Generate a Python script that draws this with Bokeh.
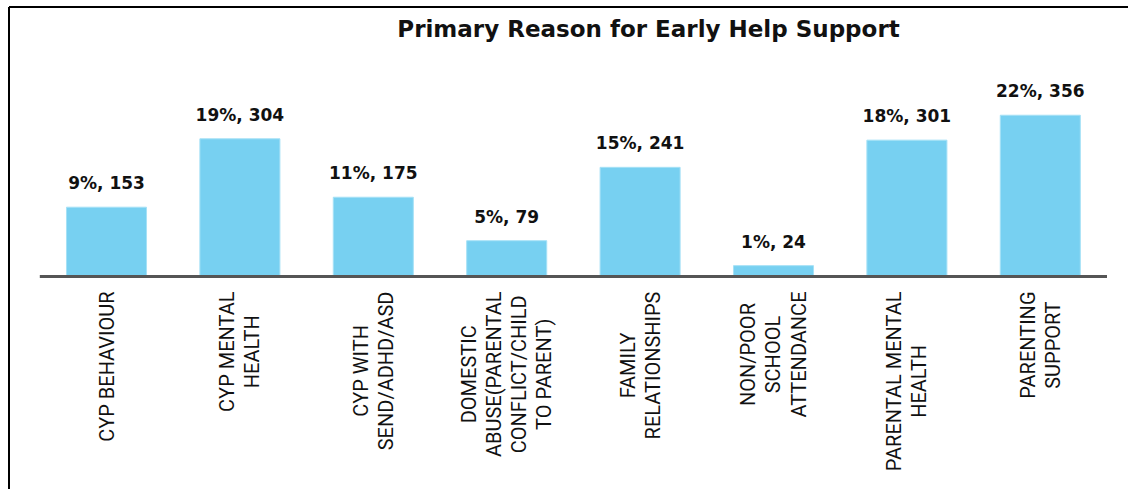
import math
from bokeh.plotting import figure
from bokeh.models import ColumnDataSource, Range1d, Label
from bokeh.core.properties import value
from bokeh.embed import file_html
from bokeh.resources import INLINE

# ---- data ----
categories = [
    "CYP BEHAVIOUR",
    "CYP MENTAL\nHEALTH",
    "CYP WITH\nSEND/ADHD/ASD",
    "DOMESTIC\nABUSE(PARENTAL\nCONFLICT/CHILD\nTO PARENT)",
    "FAMILY\nRELATIONSHIPS",
    "NON/POOR\nSCHOOL\nATTENDANCE",
    "PARENTAL MENTAL\nHEALTH",
    "PARENTING\nSUPPORT",
]
counts = [153, 304, 175, 79, 241, 24, 301, 356]
percents = [9, 19, 11, 5, 15, 1, 18, 22]
title_text = "Primary Reason for Early Help Support"

# ---- layout ----
W, H = 1128, 489
STEP = 133.4          # pixels per category
FIRST = 106.0         # pixel centre of first category
AXIS_PX = 276.0       # pixel row of zero line
K = 0.453             # pixels per unit

x0 = -FIRST / STEP
x1 = x0 + W / STEP
y0 = -(H - AXIS_PX) / K
y1 = AXIS_PX / K

def px_x(px):
    return x0 + px / STEP

def px_y(py):
    return y1 - py / K

p = figure(width=W, height=H, output_backend="svg", toolbar_location=None,
           x_range=Range1d(x0, x1), y_range=Range1d(y0, y1),
           x_axis_type=None, y_axis_type=None, min_border=0,
           outline_line_color=None, background_fill_color="white",
           border_fill_color="white")
p.xgrid.visible = False
p.ygrid.visible = False

idx = list(range(len(categories)))
src = ColumnDataSource(dict(
    x=idx,
    n=counts,
    cat=categories,
    lab=[f"{pc}%, {n}" for pc, n in zip(percents, counts)],
    zero=[0] * len(idx),
))

# bars
p.vbar(x="x", top="n", width=0.6, bottom=0, source=src,
       fill_color="#77D0F1", line_color="#A6E1F6", line_width=1)

# zero line / axis
p.segment(x0=[-0.5], y0=[0], x1=[len(categories) - 0.5], y1=[0],
          line_color="#555555", line_width=3)

# value labels
p.text(x="x", y="n", text="lab", source=src,
       text_font=value("DejaVu Sans"), text_font_style="bold",
       text_font_size="17px", text_color="#111111",
       text_align="center", text_baseline="bottom", y_offset=-14)

# category labels (rotated)
p.text(x="x", y="zero", text="cat", source=src, angle=math.pi / 2,
       anchor="center_right", text_align="center",
       text_font=value("Roboto"), text_font_size="20px",
       text_color="#111111", text_line_height=1.05, y_offset=15)

# title
p.add_layout(Label(x=px_x(648), y=px_y(28), text=title_text,
                   text_font="DejaVu Sans", text_font_style="bold",
                   text_font_size="23px", text_color="#111111",
                   text_align="center", text_baseline="middle"))

# border (top and left edges of chart box)
p.segment(x0=[px_x(8.5), px_x(8.5)], y0=[px_y(6.5), px_y(6.5)],
          x1=[px_x(1140), px_x(8.5)], y1=[px_y(6.5), px_y(500)],
          line_color="black", line_width=2)

open("out.html", "w").write(file_html(p, INLINE))
